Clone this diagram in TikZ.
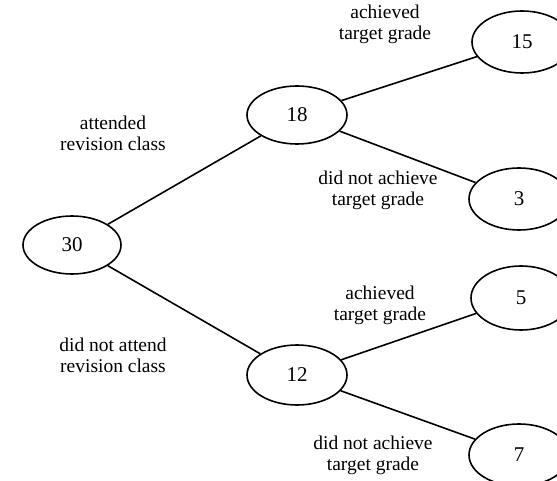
\documentclass[tikz,border=0pt]{standalone}
\usepackage{fontspec}
\setmainfont{Liberation Serif}
\usetikzlibrary{shapes.geometric}
\begin{document}
\begin{tikzpicture}[x=1pt,y=-1pt,
  oval/.style={draw,ellipse,line width=1.6pt,inner sep=0pt,minimum width=100pt,minimum height=60pt,font=\fontsize{21}{23}\selectfont},
  lbl/.style={align=center,font=\fontsize{19.5}{21}\selectfont,inner sep=0pt},
  branch/.style={line width=1.6pt}]
\useasboundingbox (0,0) rectangle (557,481);
\node[oval,minimum width=98pt,minimum height=58pt] (n30) at (72,245) {30};
\node[oval,minimum height=58pt] (n18) at (297,115) {18};
\node[oval] (n12) at (297,375) {12};
\node[oval,minimum height=62pt] (n15) at (522,42) {15};
\node[oval,minimum height=62pt] (n3) at (519,199) {3};
\node[oval,minimum height=64pt] (n5) at (521,298) {5};
\node[oval,minimum height=62pt] (n7) at (519,455) {7};
\draw[branch] (n30) -- (n18);
\draw[branch] (n30) -- (n12);
\draw[branch] (n18) -- (n15);
\draw[branch] (n18) -- (n3);
\draw[branch] (n12) -- (n5);
\draw[branch] (n12) -- (n7);
\node[lbl] (l1) at (113,133) {attended\\revision class};
\node[lbl] (l2) at (113,355) {did not attend\\revision class};
\node[lbl] (l3) at (385,24) {achieved\\target grade};
\node[lbl] (l4) at (378,190) {did not achieve\\target grade};
\node[lbl] (l5) at (380,305) {achieved\\target grade};
\node[lbl] (l6) at (373,455) {did not achieve\\target grade};
\end{tikzpicture}
\end{document}
